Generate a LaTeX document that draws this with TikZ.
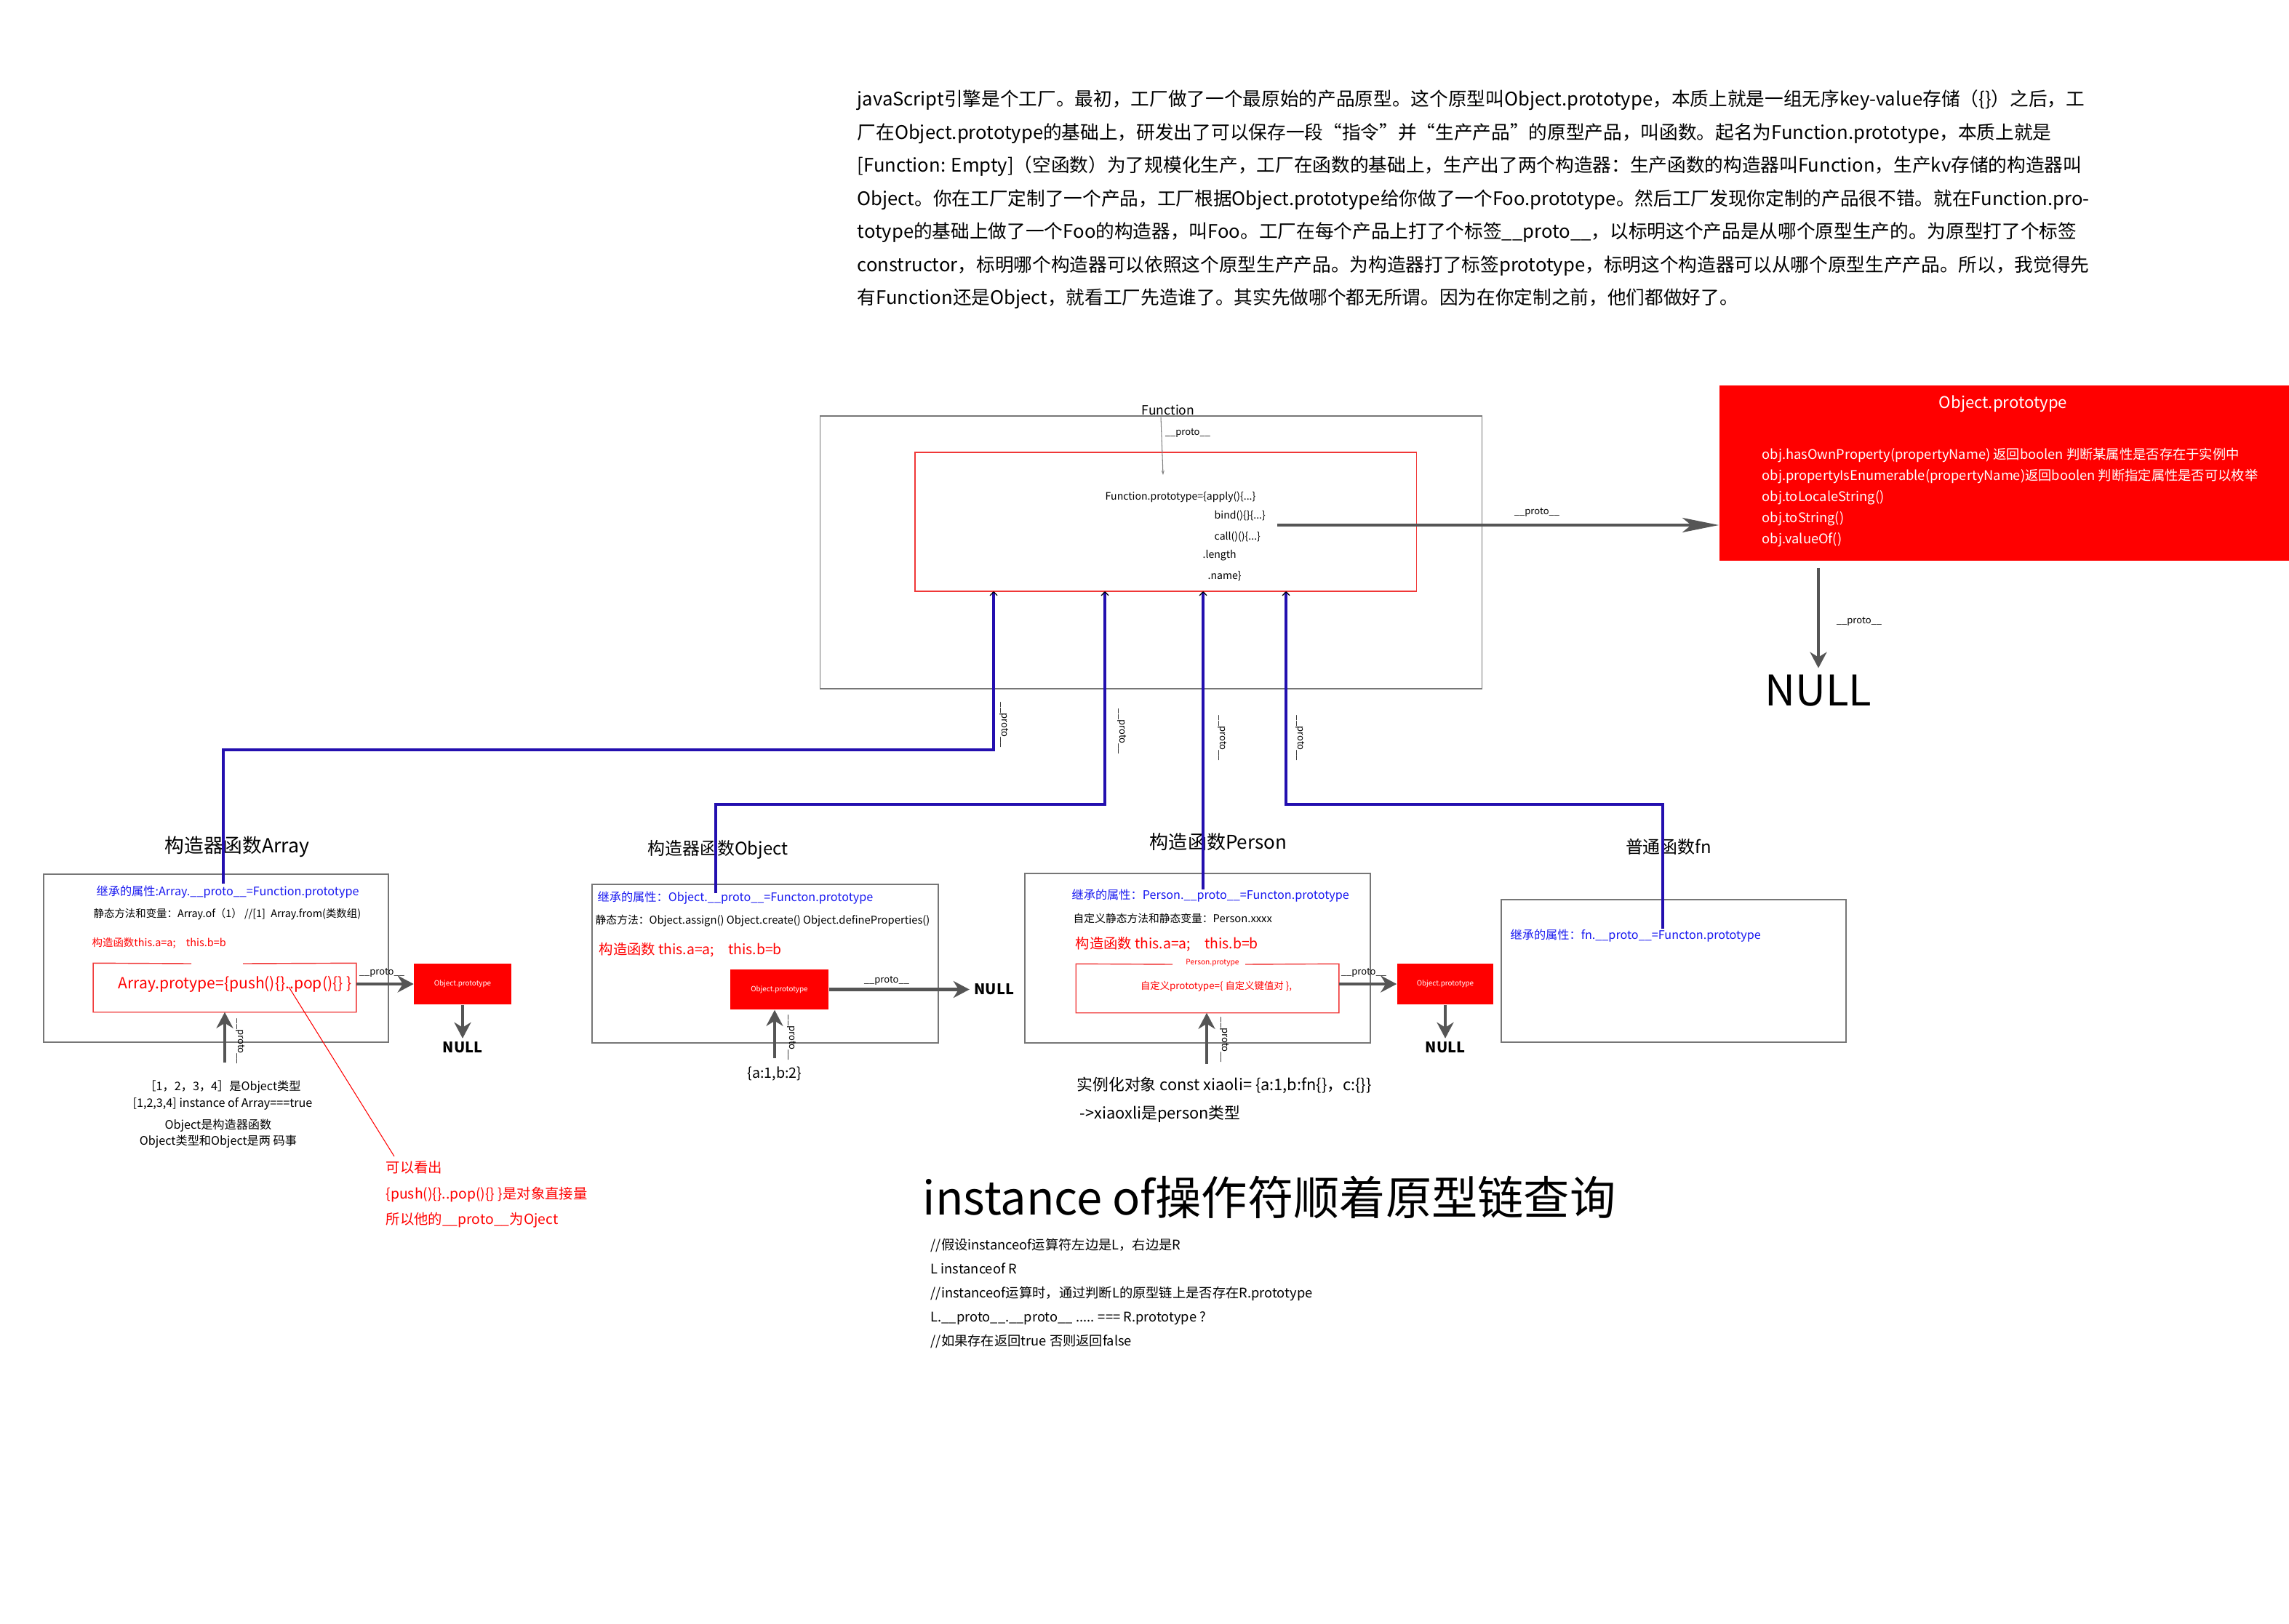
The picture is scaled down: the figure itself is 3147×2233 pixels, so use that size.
\documentclass[tikz,border=0pt]{standalone}
\usepackage{fontspec}
\setmainfont{Noto Sans CJK SC}
\usepackage{xcolor}
\usetikzlibrary{calc, positioning, arrows.meta}

\definecolor{protored}{RGB}{255,0,0}
\definecolor{boxgray}{RGB}{118,118,118}
\definecolor{arrowgray}{RGB}{85,85,85}
\definecolor{inheritblue}{RGB}{25,25,240}
\definecolor{linkblue}{RGB}{35,15,175}
\definecolor{borderred}{RGB}{240,55,55}

\begin{document}
\begin{tikzpicture}[x=0.01cm, y=-0.01cm, inner sep=0pt,
    fs/.style={font=\fontsize{#1}{#1}\selectfont},
    graybox/.style={draw=boxgray, line width=0.4pt},
    redframe/.style={draw=borderred, line width=0.4pt},
    protobox/.style={fill=protored, text=white},
    miniproto/.style={protobox, fs=2.8, minimum width=1.33cm, minimum height=0.56cm},
    graylink/.style={draw=arrowgray, line width=1.2pt, -{Stealth[length=0.22cm, width=0.23cm, inset=0.07cm]}},
    thinlink/.style={draw=gray, line width=0.3pt, -{Stealth[length=0.06cm, width=0.04cm]}},
    bluelink/.style={draw=linkblue, line width=0.95pt, -{Straight Barb[length=0.05cm, width=0.1cm, color=black, line width=0.35pt]}},
    protolabel/.style={fs=3.7},
    protov/.style={fs=3.7, rotate=-90},
    sectitle/.style={fs=#1},
    inherit/.style={fs=4.6, text=inheritblue, anchor=west},
    statics/.style={fs=4.2, anchor=west},
    ctor/.style={fs=#1, text=protored, anchor=west},
    nullsmall/.style={font=\fontsize{5.7}{5.7}\selectfont\bfseries}]

  \useasboundingbox (0,0) rectangle (3147,2233);
  \fill[white] (0,0) rectangle (3147,2233);

  % intro text
  \node[anchor=north west, align=left, font=\fontsize{7.3}{12.95}\selectfont] (intro) at (1178,123)
  {javaScript引擎是个工厂。最初，工厂做了一个最原始的产品原型。这个原型叫Object.prototype，本质上就是一组无序key-value存储（\{\}）之后，工\\
  厂在Object.prototype的基础上，研发出了可以保存一段“指令”并“生产产品”的原型产品，叫函数。起名为Function.prototype，本质上就是\\
  {[}Function: Empty]（空函数）为了规模化生产，工厂在函数的基础上，生产出了两个构造器：生产函数的构造器叫Function，生产kv存储的构造器叫\\
  Object。你在工厂定制了一个产品，工厂根据Object.prototype给你做了一个Foo.prototype。然后工厂发现你定制的产品很不错。就在Function.pro-\\
  totype的基础上做了一个Foo的构造器，叫Foo。工厂在每个产品上打了个标签\_\_proto\_\_，以标明这个产品是从哪个原型生产的。为原型打了个标签\\
  constructor，标明哪个构造器可以依照这个原型生产产品。为构造器打了标签prototype，标明这个构造器可以从哪个原型生产产品。所以，我觉得先\\
  有Function还是Object，就看工厂先造谁了。其实先做哪个都无所谓。因为在你定制之前，他们都做好了。};

  % Function
  \node[fs=5] (funclabel) at (1606,564) {Function};
  \node[graybox, minimum width=9.09cm, minimum height=3.75cm] (funcbox) at (1582.5,759.5) {};
  \node[redframe, minimum width=6.89cm, minimum height=1.91cm] (funcproto) at (1602.5,717.5) {};
  \node[fs=4, anchor=west] (fpapply) at (1519,683) {Function.prototype=\{apply()\{...\}};
  \node[fs=4, anchor=west] (fpbind) at (1669,709) {bind()\{\}\{...\}};
  \node[fs=4, anchor=west] (fpcall) at (1669,738) {call()()\{...\}};
  \node[fs=4, anchor=west] (fplength) at (1653,764) {.length};
  \node[fs=4, anchor=west] (fpname) at (1660,792) {.name\}};
  \coordinate (fpin) at (1599,653);
  \draw[thinlink] (funclabel.south) ++(-10,2) coordinate (fptop) -- (fpin);
  \node[protolabel] (fplabel) at (1633,595) {\_\_proto\_\_};

  % Object.prototype
  \node[protobox, minimum width=7.83cm, minimum height=2.41cm] (objproto) at (2755.5,650.5) {};
  \node[fs=6.3, text=white] (objtitle) at (2754,555) {Object.prototype};
  \node[anchor=north west, align=left, text=white, font=\fontsize{5.2}{8.25}\selectfont] (objmethods) at (2422,615)
  {obj.hasOwnProperty(propertyName) 返回boolen 判断某属性是否存在于实例中\\
  obj.propertyIsEnumerable(propertyName)返回boolen 判断指定属性是否可以枚举\\
  obj.toLocaleString()\\
  obj.toString()\\
  obj.valueOf()};
  \coordinate (fpout) at (1756,722);
  \draw[graylink, -{Stealth[length=0.5cm, width=0.2cm, inset=0.12cm]}] (fpout) -- (fpout -| objproto.west);
  \node[protolabel] (fpoutlabel) at (2113,704) {\_\_proto\_\_};
  \node[font=\fontsize{16.5}{16.5}\selectfont] (nullbig) at (2500,950) {NULL};
  \draw[graylink, shorten <=0.09cm, shorten >=0.09cm] (nullbig.north |- objproto.south) -- (nullbig.north);
  \node[protolabel] (objnulllabel) at (2556,854) {\_\_proto\_\_};

  % Array
  \node[sectitle=7.6] (arrtitle) at (326,1164) {构造器函数Array};
  \node[graybox, minimum width=4.74cm, minimum height=2.31cm] (arrbox) at (297,1317.5) {};
  \node[inherit] (arrinherit) at (132,1227) {继承的属性:Array.\_\_proto\_\_=Function.prototype};
  \node[statics, fs=4.1] (arrstatic) at (128,1257) {静态方法和变量：Array.of（1） //[1]\enspace Array.from(类数组)};
  \node[ctor=4.1] (arrctor) at (126,1297) {构造函数this.a=a;\quad this.b=b};
  \node[minimum width=3.6cm, minimum height=0.66cm] (arrproto) at (309,1358) {};
  \draw[redframe] (263,1325) -- (arrproto.north west) -- (arrproto.south west) -- (arrproto.south east) -- (arrproto.north east) -- (334,1325);
  \node[fs=6.0, text=protored, anchor=west] (arrprotext) at (162,1353) {Array.protype=\{push()\{\}..pop()\{\} \}};
  \node[miniproto] (arrobj) at (636,1353) {Object.prototype};
  \draw[graylink] (arrproto.east |- arrobj) -- (arrobj.west);
  \node[protolabel] (arrobjlabel) at (525,1337) {\_\_proto\_\_};
  \node[nullsmall, below=0.5cm of arrobj] (arrnull) {NULL};
  \draw[graylink, shorten >=0.04cm] (arrobj.south) -- (arrnull.north);
  \coordinate (arrup) at (309,1461);
  \draw[graylink] (arrup) -- (arrup |- arrproto.south);
  \node[protov] (arruplabel) at (331,1432) {\_\_proto\_\_};
  \node[align=center, font=\fontsize{4.6}{6.3}\selectfont] (arrnote) at (306,1506)
  {［1，2，3，4］是Object类型\\ {[}1,2,3,4] instance of Array===true};
  \node[align=center, font=\fontsize{4.6}{6.3}\selectfont] (arrnote2) at (300,1559)
  {Object是构造器函数\\ Object类型和Object是两 码事};
  \coordinate (popdot) at (397,1357);
  \coordinate (noteend) at (542,1590);
  \draw[draw=protored, line width=0.3pt] (popdot) -- (noteend);
  \node[anchor=north west, align=left, text=protored, font=\fontsize{5.5}{10}\selectfont] (arrremark) at (530,1596)
  {可以看出\\ \{push()\{\}..pop()\{\} \}是对象直接量\\ 所以他的\_\_proto\_\_为Oject};

  % Object
  \node[sectitle=6.8] (objctitle) at (987,1168) {构造器函数Object};
  \node[graybox, minimum width=4.76cm, minimum height=2.18cm] (objbox) at (1052,1325) {};
  \node[inherit] (objinherit) at (821,1235) {继承的属性：Object.\_\_proto\_\_=Functon.prototype};
  \node[statics] (objstatic) at (818,1266) {静态方法：Object.assign() Object.create() Object.defineProperties()};
  \node[ctor=5.5] (objctor) at (823,1306) {构造函数 this.a=a;\quad this.b=b};
  \node[miniproto, minimum width=1.35cm, minimum height=0.55cm] (objproto2) at (1071.5,1360.5) {Object.prototype};
  \node[nullsmall, right=1.99cm of objproto2] (objnull) {NULL};
  \draw[graylink, shorten >=0.06cm] (objproto2.east) -- (objnull.west);
  \node[protolabel] (objnulllabel2) at (1219,1348) {\_\_proto\_\_};
  \node[fs=5.6] (objval) at (1065,1477) {\{a:1,b:2\}};
  \draw[graylink, shorten <=0.12cm] (objval.north) -- (objval.north |- objproto2.south);
  \node[protov] (objuplabel) at (1089,1427) {\_\_proto\_\_};

  % Person
  \node[sectitle=7.4] (pertitle) at (1675,1158) {构造函数Person};
  \node[graybox, minimum width=4.75cm, minimum height=2.33cm] (perbox) at (1646.5,1317.5) {};
  \node[inherit] (perinherit) at (1473,1232) {继承的属性：Person.\_\_proto\_\_=Functon.prototype};
  \node[statics] (perstatic) at (1475,1263) {自定义静态方法和静态变量：Person.xxxx};
  \node[ctor=5.5] (perctor) at (1478,1298) {构造函数 this.a=a;\quad this.b=b};
  \node[minimum width=3.6cm, minimum height=0.66cm] (perproto) at (1660,1359) {};
  \draw[redframe] (1612,1326) -- (perproto.north west) -- (perproto.south west) -- (perproto.south east) -- (perproto.north east) -- (1712,1326);
  \node[fs=2.9, text=protored] (perprotolabel) at (1667,1324) {Person.protype};
  \node[fs=3.8, text=protored] (perprotext) at (1672,1356) {自定义prototype=\{ 自定义键值对 \},};
  \node[miniproto, minimum width=1.32cm] (perobj) at (1987,1353) {Object.prototype};
  \draw[graylink] (perproto.east |- perobj) -- (perobj.west);
  \node[protolabel] (perobjlabel) at (1875,1337) {\_\_proto\_\_};
  \node[nullsmall, below=0.5cm of perobj] (pernull) {NULL};
  \draw[graylink, shorten >=0.04cm] (perobj.south) -- (pernull.north);
  \coordinate (perup) at (1659,1463);
  \draw[graylink] (perup) -- (perup |- perproto.south);
  \node[protov] (peruplabel) at (1684,1430) {\_\_proto\_\_};
  \node[fs=6.2, anchor=west] (perinst) at (1480,1492) {实例化对象 const xiaoli= \{a:1,b:fn\{\}，c:\{\}\}};
  \node[fs=6.2, anchor=west] (pertype) at (1484,1532) {->xiaoxli是person类型};

  % fn
  \node[sectitle=6.8] (fntitle) at (2294,1164) {普通函数fn};
  \node[graybox, minimum width=4.74cm, minimum height=1.96cm] (fnbox) at (2301,1335) {};
  \node[inherit] (fninherit) at (2076,1287) {继承的属性：fn.\_\_proto\_\_=Functon.prototype};

  % __proto__ links up to Function.prototype
  \coordinate (fp1) at (1366,813);
  \coordinate (fp2) at (1519,813);
  \coordinate (fp3) at (1654,813);
  \coordinate (fp4) at (1768,813);
  \coordinate (arrin) at (307,1215);
  \coordinate (arrbend) at (1366,1031);
  \coordinate (objin) at (984,1228);
  \coordinate (objbend) at (1519,1106);
  \coordinate (perin) at (1654,1223);
  \coordinate (fnin) at (2286,1277);
  \coordinate (fnbend) at (1768,1106);
  \draw[bluelink] (arrin) |- (arrbend) -- (fp1);
  \draw[bluelink] (objin) |- (objbend) -- (fp2);
  \draw[bluelink] (perin) -- (fp3);
  \draw[bluelink] (fnin) |- (fnbend) -- (fp4);
  \node[protov] (link1label) at (1381,997) {\_\_proto\_\_};
  \node[protov] (link2label) at (1543,1006) {\_\_proto\_\_};
  \node[protov] (link3label) at (1681,1015) {\_\_proto\_\_};
  \node[protov] (link4label) at (1788,1015) {\_\_proto\_\_};

  % instanceof
  \node[fs=18, anchor=west] (insttitle) at (1268,1646) {instance of操作符顺着原型链查询};
  \node[anchor=north west, align=left, font=\fontsize{5.2}{9.4}\selectfont] (instcode) at (1279,1702)
  {//假设instanceof运算符左边是L，右边是R\\
  L instanceof R\\
  //instanceof运算时，通过判断L的原型链上是否存在R.prototype\\
  L.\_\_proto\_\_.\_\_proto\_\_ ..... === R.prototype ?\\
  //如果存在返回true 否则返回false};
\end{tikzpicture}
\end{document}
